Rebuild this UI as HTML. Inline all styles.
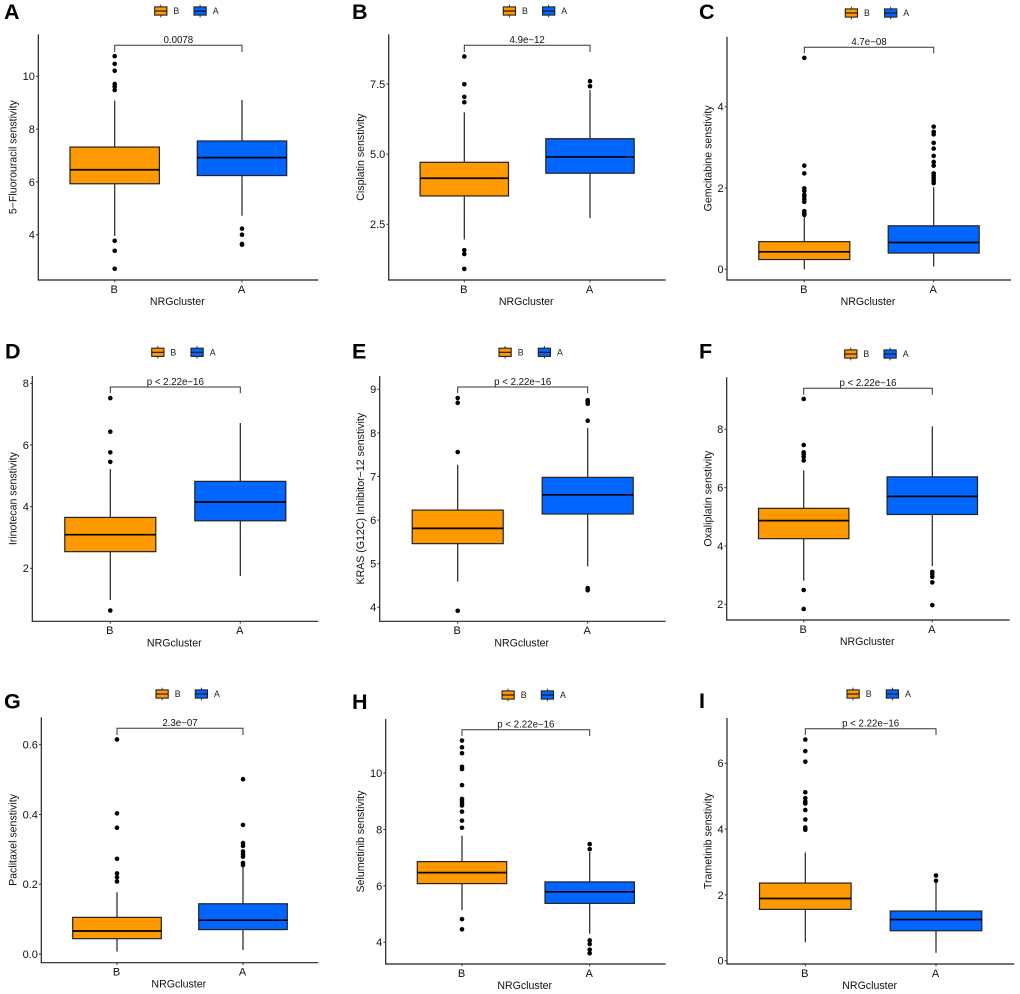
<!DOCTYPE html>
<html lang="en">
<head>
<meta charset="utf-8">
<title>NRGcluster drug sensitivity boxplots</title>
<style>
html,body{margin:0;padding:0;background:#fff;}
svg{display:block;font-family:"Liberation Sans",sans-serif;filter:blur(0.3px);}
</style>
</head>
<body>
<svg id="figure" xmlns="http://www.w3.org/2000/svg" width="1020" height="994" viewBox="0 0 1020 994"></svg>
<script>
// ---- shared labels ----
const categories = ['B', 'A'];
const xAxisTitle = 'NRGcluster';
const panelLetters = ['A', 'B', 'C', 'D', 'E', 'F', 'G', 'H', 'I'];
const yTitles = ['5\u2212Fluorouracil senstivity', 'Cisplatin senstivity', 'Gemcitabine senstivity', 'Irinotecan senstivity', 'KRAS (G12C) Inhibitor\u221212 senstivity', 'Oxaliplatin senstivity', 'Paclitaxel senstivity', 'Selumetinib senstivity', 'Trametinib senstivity'];
const pLabels = ['0.0078', '4.9e\u221212', '4.7e\u221208', 'p < 2.22e\u221216', 'p < 2.22e\u221216', 'p < 2.22e\u221216', '2.3e\u221207', 'p < 2.22e\u221216', 'p < 2.22e\u221216'];

// ---- data: tick labels, [whiskerLow, q1, median, q3, whiskerHigh] per group, outliers per group ----
const ticksA = ['4', '6', '8', '10'];
const statsA_B = [3.95, 5.93, 6.46, 7.32, 9.08];
const statsA_A = [4.72, 6.24, 6.92, 7.55, 9.10];
const outliersA_B = [10.76, 10.47, 10.21, 9.71, 9.61, 9.48, 3.77, 3.39, 2.71];
const outliersA_A = [4.23, 4.0, 3.65, 3.62];

const ticksB = ['2.5', '5.0', '7.5'];
const statsB_B = [1.96, 3.51, 4.14, 4.71, 6.49];
const statsB_A = [2.72, 4.32, 4.90, 5.55, 7.28];
const outliersB_B = [8.48, 7.49, 7.04, 6.85, 1.58, 1.44, 0.91];
const outliersB_A = [7.6, 7.42];

const ticksC = ['0', '2', '4'];
const statsC_B = [0.0, 0.24, 0.43, 0.68, 1.3];
const statsC_A = [0.07, 0.40, 0.66, 1.07, 2.02];
const outliersC_B = [5.2, 2.55, 2.36, 1.99, 1.93, 1.83, 1.79, 1.72, 1.66, 1.43, 1.38, 1.34];
const outliersC_A = [3.51, 3.38, 3.32, 3.11, 2.97, 2.79, 2.64, 2.55, 2.36, 2.30, 2.24, 2.18, 2.12];

const ticksD = ['2', '4', '6', '8'];
const statsD_B = [0.97, 2.54, 3.09, 3.65, 5.22];
const statsD_A = [1.75, 3.54, 4.15, 4.82, 6.71];
const outliersD_B = [7.52, 6.43, 5.76, 5.45, 0.63];
const outliersD_A = [];

const ticksE = ['4', '5', '6', '7', '8', '9'];
const statsE_B = [4.59, 5.46, 5.81, 6.23, 7.27];
const statsE_A = [4.94, 6.14, 6.58, 6.98, 8.11];
const outliersE_B = [8.80, 8.69, 7.56, 3.92];
const outliersE_A = [8.75, 8.71, 8.67, 8.28, 4.44, 4.39];

const ticksF = ['2', '4', '6', '8'];
const statsF_B = [2.81, 4.25, 4.87, 5.29, 6.59];
const statsF_A = [3.31, 5.08, 5.70, 6.37, 8.10];
const outliersF_B = [9.04, 7.46, 7.21, 7.14, 7.05, 6.93, 2.49, 1.84];
const outliersF_A = [3.11, 3.03, 2.94, 2.75, 1.97];

const ticksG = ['0.0', '0.2', '0.4', '0.6'];
const statsG_B = [0.007, 0.044, 0.066, 0.105, 0.177];
const statsG_A = [0.011, 0.070, 0.097, 0.144, 0.25];
const outliersG_B = [0.615, 0.403, 0.362, 0.273, 0.231, 0.220, 0.208];
const outliersG_A = [0.501, 0.370, 0.318, 0.310, 0.294, 0.286, 0.279, 0.261, 0.255];

const ticksH = ['4', '6', '8', '10'];
const statsH_B = [5.14, 6.08, 6.47, 6.86, 7.78];
const statsH_A = [4.30, 5.38, 5.79, 6.14, 7.2];
const outliersH_B = [11.15, 10.91, 10.70, 10.22, 10.14, 9.57, 9.08, 9.0, 8.92, 8.85, 8.63, 8.31, 8.06, 4.82, 4.46];
const outliersH_A = [7.48, 7.30, 4.07, 3.94, 3.74, 3.61];

const ticksI = ['0', '2', '4', '6'];
const statsI_B = [0.56, 1.56, 1.89, 2.36, 3.29];
const statsI_A = [0.24, 0.91, 1.25, 1.51, 2.43];
const outliersI_B = [6.72, 6.37, 6.05, 5.12, 4.94, 4.84, 4.78, 4.58, 4.29, 4.05, 3.98];
const outliersI_A = [2.59, 2.43];

const panelData = [
  {ticks: ticksA, stats: [statsA_B, statsA_A], outliers: [outliersA_B, outliersA_A]},
  {ticks: ticksB, stats: [statsB_B, statsB_A], outliers: [outliersB_B, outliersB_A]},
  {ticks: ticksC, stats: [statsC_B, statsC_A], outliers: [outliersC_B, outliersC_A]},
  {ticks: ticksD, stats: [statsD_B, statsD_A], outliers: [outliersD_B, outliersD_A]},
  {ticks: ticksE, stats: [statsE_B, statsE_A], outliers: [outliersE_B, outliersE_A]},
  {ticks: ticksF, stats: [statsF_B, statsF_A], outliers: [outliersF_B, outliersF_A]},
  {ticks: ticksG, stats: [statsG_B, statsG_A], outliers: [outliersG_B, outliersG_A]},
  {ticks: ticksH, stats: [statsH_B, statsH_A], outliers: [outliersH_B, outliersH_A]},
  {ticks: ticksI, stats: [statsI_B, statsI_A], outliers: [outliersI_B, outliersI_A]}
];

// ---- layout (pixels): axes box, y calibration [value, px, value, px], category centres, box half width, bracket, legend, letter ----
const layout = [
  {l:38.3,  r:318.3,  t:34.3,  b:280,   cal:[10,76.3,4,234.7],    x0:114.7, x1:242,   hw:44.7, br:45.3,  tip:52,    lx:154.7, ly:11,    titleX:13.3,  lettX:4,   lettY:19},
  {l:388.7, r:665.7,  t:34.3,  b:280,   cal:[7.5,84,2.5,224.3],   x0:464.3, x1:590,   hw:44.2, br:45.3,  tip:52,    lx:503.3, ly:11,    titleX:360.7, lettX:352, lettY:19},
  {l:727,   r:1011,   t:36.7,  b:280,   cal:[4,106.7,0,269.3],    x0:804.3, x1:933.7, hw:45.5, br:47.3,  tip:53.3,  lx:845.3, ly:13,    titleX:708,   lettX:699, lettY:19},
  {l:32.3,  r:318.3,  t:376,   b:621.3, cal:[8,383.3,2,568.3],    x0:110.3, x1:240.3, hw:45.5, br:387,   tip:393.3, lx:151.7, ly:352.3, titleX:13.3,  lettX:5,   lettY:358.3},
  {l:379.7, r:665.7,  t:376,   b:621.3, cal:[9,389.3,4,607.3],    x0:457.7, x1:587.7, hw:45.5, br:387,   tip:393.3, lx:499,   ly:352.3, titleX:360.7, lettX:352, lettY:358.3},
  {l:726.7, r:1009.7, t:377.3, b:620,   cal:[8,429.3,2,604.3],    x0:803.7, x1:932.3, hw:45.2, br:388.3, tip:394.7, lx:844.7, ly:354,   titleX:708,   lettX:699, lettY:358.3},
  {l:41.3,  r:318.3,  t:717.3, b:962.7, cal:[0.6,744.7,0,954],    x0:117,   x1:243,   hw:44.3, br:728.3, tip:735,   lx:156,   ly:694,   titleX:13.3,  lettX:4,   lettY:708.7},
  {l:385.7, r:665.7,  t:719,   b:964,   cal:[10,773,4,942.3],     x0:462,   x1:589.7, hw:44.7, br:729.7, tip:736,   lx:502,   ly:695,   titleX:360.7, lettX:352, lettY:709},
  {l:727,   r:1014.3, t:718,   b:964,   cal:[6,763.3,0,960.7],    x0:805.3, x1:936,   hw:45.8, br:728.7, tip:735,   lx:847,   ly:694,   titleX:708,   lettX:699, lettY:708}
];
const fills = {B: '#FF9900', A: '#0066FF'};
const SVGNS = 'http://www.w3.org/2000/svg';
const figure = document.getElementById('figure');

function make(tag, attrs, parent, text) {
  const node = document.createElementNS(SVGNS, tag);
  for (const k in attrs) node.setAttribute(k, attrs[k]);
  if (text !== undefined) node.textContent = text;
  parent.appendChild(node);
  return node;
}
function yScale(cal) {
  const m = (cal[3] - cal[1]) / (cal[2] - cal[0]);
  return function (v) { return cal[1] + (v - cal[0]) * m; };
}
function xScale(p) {
  return function (i) { return p.x0 + i * (p.x1 - p.x0); };
}

function drawLegend(group, p) {
  categories.forEach(function (cat, i) {
    const kx = p.lx + i * 39.3;
    const key = make('g', {}, group);
    
    
    const w = make('line', {x1: kx + 6.1, x2: kx + 6.1, y1: p.ly - 6.3, y2: p.ly + 6.3, stroke: '#333', 'stroke-width': 1}, key);
    
    
    const r = make('rect', {x: kx, y: p.ly - 4.1, width: 12.2, height: 8.2, fill: fills[cat], stroke: '#222', 'stroke-width': 1.1}, key);
    
    
    const m = make('line', {x1: kx, x2: kx + 12.2, y1: p.ly, y2: p.ly, stroke: '#111', 'stroke-width': 1.1}, key);
    
    
    const t = make('text', {x: kx + 18.7, y: p.ly + 3.1, 'font-size': 8.8, fill: '#222'}, key, cat);
    
    
  });
}

function drawAxes(group, p, d, y, x, idx) {
  const mid = (p.t + p.b) / 2;
  const yLine = make('line', {x1: p.l, x2: p.l, y1: p.t, y2: p.b + 0.5, stroke: '#222', 'stroke-width': 1.2}, group);
  
  
  const xLine = make('line', {x1: p.l - 0.5, x2: p.r, y1: p.b, y2: p.b, stroke: '#222', 'stroke-width': 1.2}, group);
  
  
  d.ticks.forEach(function (label) {
    const py = y(parseFloat(label));
    const tick = make('line', {x1: p.l - 2.3, x2: p.l, y1: py, y2: py, stroke: '#333', 'stroke-width': 1}, group);
    
    
    const txt = make('text', {x: p.l - 3.4, y: py + 3.9, 'text-anchor': 'end', 'font-size': 11, fill: '#111'}, group, label);
    
    
  });
  categories.forEach(function (cat, i) {
    const px = x(i);
    const tick = make('line', {x1: px, x2: px, y1: p.b, y2: p.b + 2.3, stroke: '#333', 'stroke-width': 1}, group);
    
    
    const txt = make('text', {x: px - 0.5, y: p.b + 12.8, 'text-anchor': 'middle', 'font-size': 11, fill: '#111'}, group, cat);
    
    
  });
  const xt = make('text', {x: (p.l + p.r) / 2 - 1, y: p.b + 25, 'text-anchor': 'middle', 'font-size': 10.6, fill: '#111'}, group, xAxisTitle);
  
  
  const yt = make('text', {x: p.titleX + 3.4, y: mid, 'text-anchor': 'middle', 'font-size': 10.6, fill: '#111', transform: 'rotate(-90 ' + (p.titleX + 3.4) + ' ' + mid + ')'}, group, yTitles[idx]);
  
  
}

function drawBoxes(group, p, d, y, x) {
  categories.forEach(function (cat, i) {
    const s = d.stats[i];
    const cx = x(i);
    const g = make('g', {}, group);
    
    
    const up = make('line', {x1: cx, x2: cx, y1: y(s[4]), y2: y(s[3]), stroke: '#222', 'stroke-width': 1.2}, g);
    
    
    const lo = make('line', {x1: cx, x2: cx, y1: y(s[1]), y2: y(s[0]), stroke: '#222', 'stroke-width': 1.2}, g);
    
    
    const box = make('rect', {x: cx - p.hw, y: y(s[3]), width: 2 * p.hw, height: y(s[1]) - y(s[3]), fill: fills[cat], stroke: '#222', 'stroke-width': 1.2}, g);
    
    
    const med = make('line', {x1: cx - p.hw, x2: cx + p.hw, y1: y(s[2]), y2: y(s[2]), stroke: '#000', 'stroke-width': 1.7}, g);
    
    
    d.outliers[i].forEach(function (v) {
      const c = make('circle', {cx: cx, cy: y(v), r: 2.3, fill: '#000'}, g);
      
      
    });
  });
}

function drawBracket(group, p, x, idx) {
  const a = x(0), b = x(1);
  const path = make('path', {d: 'M' + a + ' ' + p.tip + 'V' + p.br + 'H' + b + 'V' + p.tip, fill: 'none', stroke: '#333', 'stroke-width': 1}, group);
  
  
  const t = make('text', {x: (a + b) / 2, y: p.br - 2.2, 'text-anchor': 'middle', 'font-size': 9.7, fill: '#111'}, group, pLabels[idx]);
  
  
}

panelData.forEach(function (d, idx) {
  const p = layout[idx];
  const y = yScale(p.cal);
  const x = xScale(p);
  const group = make('g', {}, figure);
  
  
  const letter = make('text', {x: p.lettX, y: p.lettY, 'font-size': 21.5, 'font-weight': 'bold', fill: '#000'}, group, panelLetters[idx]);
  
  
  drawLegend(group, p);
  drawAxes(group, p, d, y, x, idx);
  drawBoxes(group, p, d, y, x);
  drawBracket(group, p, x, idx);
});
</script>
</body>
</html>
